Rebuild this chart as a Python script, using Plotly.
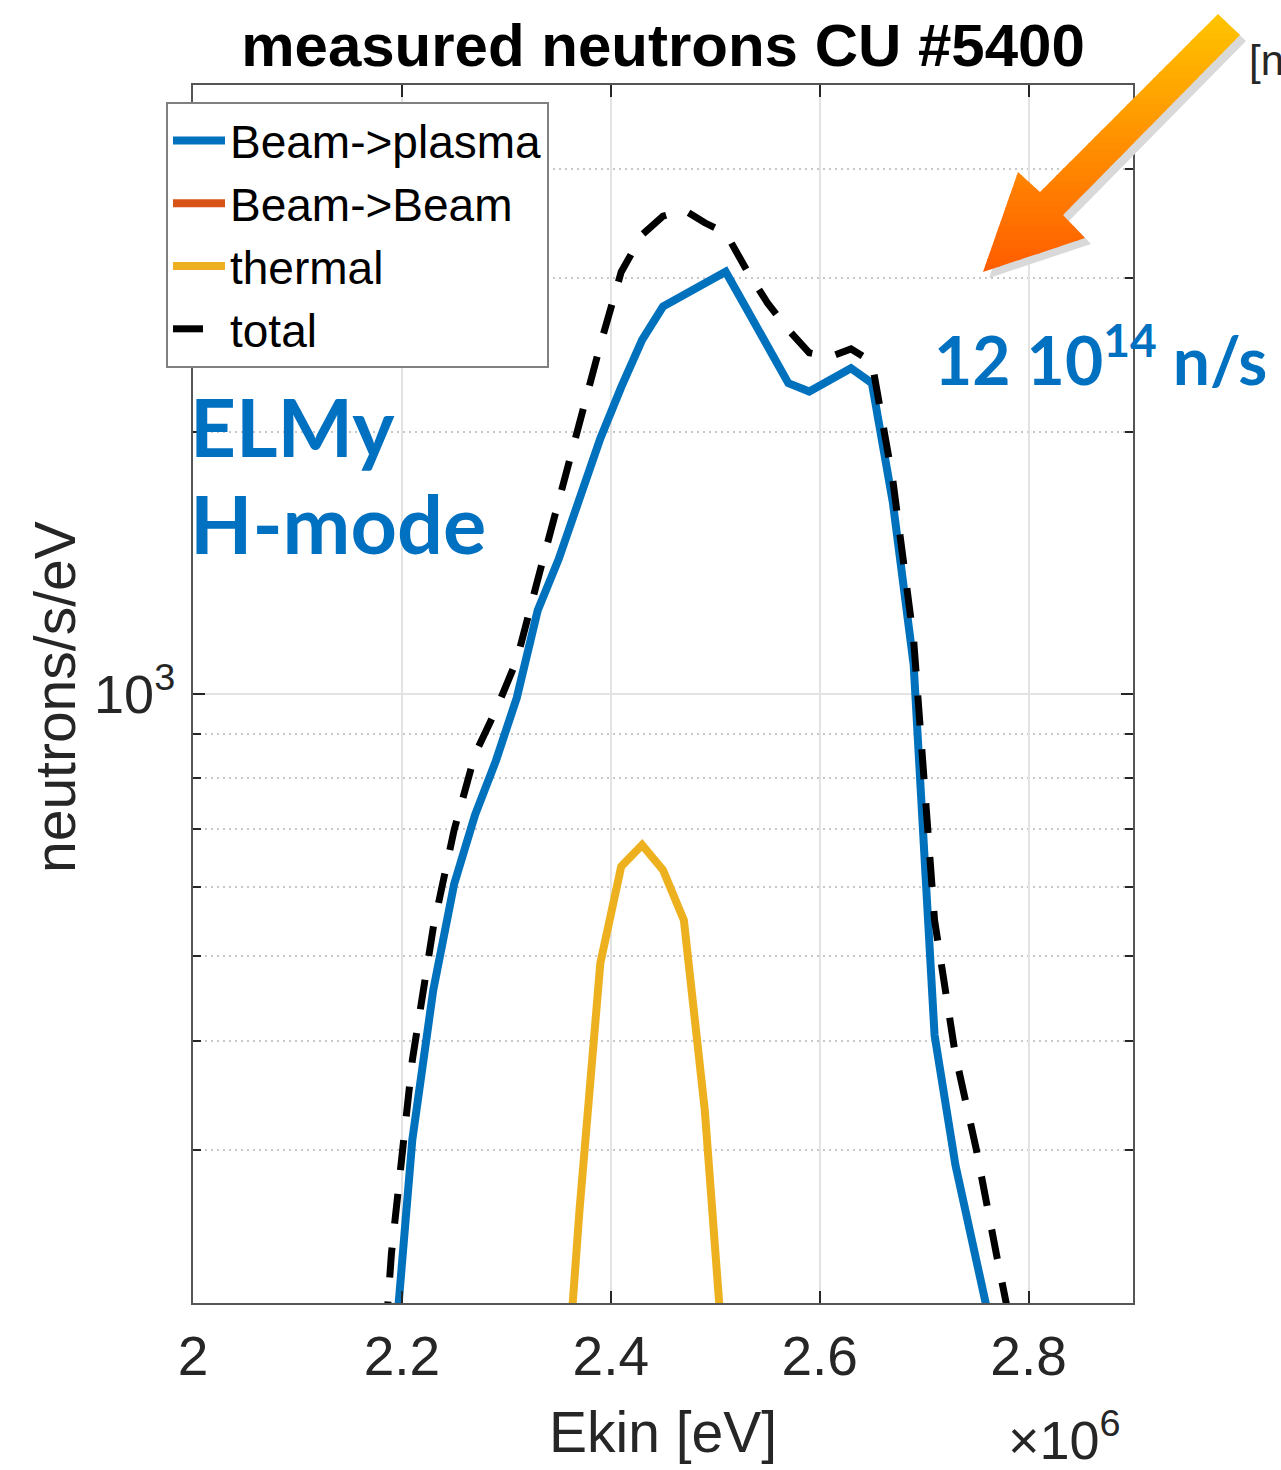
import plotly.graph_objects as go

# ---------------- data ----------------
title_text = "measured neutrons CU #5400"
x_label = "Ekin [eV]"
y_label = "neutrons/s/eV"
series_names = ["Beam->plasma", "Beam->Beam", "thermal", "total"]

x_tick_vals = [2.0e6, 2.2e6, 2.4e6, 2.6e6, 2.8e6]
x_tick_text = ["2", "2.2", "2.4", "2.6", "2.8"]
y_tick_vals = [1000]
y_tick_text = ["10<sup>3</sup>"]
y_minor_vals = [200, 300, 400, 500, 600, 700, 800, 900, 2000, 3000, 4000, 5000]

energy_beam = [2.19e6, 2.21e6, 2.23e6, 2.25e6, 2.27e6, 2.29e6, 2.31e6, 2.33e6,
               2.35e6, 2.37e6, 2.39e6, 2.41e6, 2.43e6, 2.45e6, 2.47e6, 2.49e6,
               2.51e6, 2.53e6, 2.55e6, 2.57e6, 2.59e6, 2.61e6, 2.63e6, 2.65e6,
               2.67e6, 2.69e6, 2.71e6, 2.73e6, 2.75e6, 2.77e6]
beam_plasma = [159, 308, 457, 605, 726, 838, 990, 1247, 1427, 1673, 1965, 2250,
               2549, 2784, 2871, 2961, 3053, 2768, 2509, 2274, 2224, 2293, 2365,
               2274, 1661, 1080, 406, 288, 223, 174]
beam_beam = [40, 60, 75, 90, 105, 115, 125, 135, 145, 155, 160, 165, 170, 172,
             175, 173, 170, 165, 160, 155, 150, 145, 140, 130, 100, 75, 60, 45,
             35, 30]

energy_thermal = [2.35e6, 2.37e6, 2.39e6, 2.41e6, 2.43e6, 2.45e6, 2.47e6,
                  2.49e6, 2.51e6]
thermal = [120, 255, 491, 634, 671, 628, 550, 333, 159]

energy_total = [2.17e6, 2.19e6, 2.21e6, 2.23e6, 2.25e6, 2.27e6, 2.29e6, 2.31e6,
                2.33e6, 2.35e6, 2.37e6, 2.39e6, 2.41e6, 2.43e6, 2.45e6, 2.47e6,
                2.49e6, 2.51e6, 2.53e6, 2.55e6, 2.57e6, 2.59e6, 2.61e6, 2.63e6,
                2.65e6, 2.67e6, 2.69e6, 2.71e6, 2.73e6, 2.75e6, 2.77e6, 2.79e6]
total = [105, 228, 380, 539, 698, 853, 958, 1094, 1352, 1670, 2053, 2516, 3051,
         3365, 3535, 3594, 3474, 3383, 3067, 2811, 2618, 2464, 2438, 2489, 2405,
         1761, 1153, 550, 385, 300, 225, 171]

# ---------------- styling ----------------
W, H = 1281, 1470
L, R, T, B = 193, 148, 85, 167
PW, PH = W - L - R, H - T - B
TXT = "#262626"
FONT = "Liberation Sans, Arial, Helvetica, sans-serif"
BLUE_TXT = "#0070C0"


def px2paper(px, py):
    return (px - L) / PW, (H - B - py) / PH


fig = go.Figure()
fig.add_trace(go.Scatter(x=energy_beam, y=beam_plasma, mode="lines",
                         name=series_names[0],
                         line=dict(color="#0072BD", width=8)))
fig.add_trace(go.Scatter(x=energy_beam, y=beam_beam, mode="lines",
                         name=series_names[1],
                         line=dict(color="#D95319", width=8)))
fig.add_trace(go.Scatter(x=energy_thermal, y=thermal, mode="lines",
                         name=series_names[2],
                         line=dict(color="#EDB120", width=8)))
fig.add_trace(go.Scatter(x=energy_total, y=total, mode="lines",
                         name=series_names[3],
                         line=dict(color="#000000", width=7, dash="30px,24px")))

# ---------------- arrow (decoration) ----------------
arrow_px = [(1218, 14), (1240, 35), (1063, 215), (1085, 238), (983, 272),
            (1018, 172), (1040, 192)]


def clip(poly, y0, y1):
    def clip_edge(pts, keep, inter):
        out = []
        n = len(pts)
        for i in range(n):
            cur, prev = pts[i], pts[i - 1]
            if keep(cur):
                if not keep(prev):
                    out.append(inter(prev, cur))
                out.append(cur)
            elif keep(prev):
                out.append(inter(prev, cur))
        return out

    def iy(yv):
        def f(p, q):
            t = (yv - p[1]) / (q[1] - p[1])
            return (p[0] + t * (q[0] - p[0]), yv)
        return f

    pts = clip_edge(poly, lambda p: p[1] >= y0, iy(y0))
    if pts:
        pts = clip_edge(pts, lambda p: p[1] <= y1, iy(y1))
    return pts


def path_of(pts, dx=0, dy=0):
    s = ""
    for i, (a, b) in enumerate(pts):
        X, Y = px2paper(a + dx, b + dy)
        s += ("M" if i == 0 else "L") + f"{X:.5f},{Y:.5f} "
    return s + "Z"


shapes = [dict(type="path", xref="paper", yref="paper",
               path=path_of(arrow_px, 6, 6), fillcolor="#d9d9d9",
               line=dict(width=0), layer="above")]
ymin, ymax = 14, 272
nb = 40
c0, c1 = (255, 196, 0), (255, 92, 0)
for k in range(nb):
    y0 = ymin + (ymax - ymin) * k / nb
    y1 = ymin + (ymax - ymin) * (k + 1) / nb + 1.0
    pts = clip(arrow_px, y0, y1)
    if len(pts) < 3:
        continue
    t = (k + 0.5) / nb
    col = tuple(int(round(c0[i] + (c1[i] - c0[i]) * t)) for i in range(3))
    shapes.append(dict(type="path", xref="paper", yref="paper",
                       path=path_of(pts), fillcolor=f"rgb{col}",
                       line=dict(width=0), layer="above"))

# ---------------- annotations ----------------
ann = []


def add_text(text, px, py, size, color=TXT, family=FONT, xanchor="left",
             yanchor="middle", angle=0, bold=False):
    X, Y = px2paper(px, py)
    ann.append(dict(text=f"<b>{text}</b>" if bold else text, x=X, y=Y,
                    xref="paper", yref="paper", showarrow=False,
                    xanchor=xanchor, yanchor=yanchor, textangle=angle,
                    font=dict(size=size, color=color, family=family)))


add_text(y_label, 55, 697, 57, xanchor="center", angle=-90)
add_text(x_label, 663, 1432, 57, xanchor="center")
add_text("×10<sup>6</sup>", 1006, 1436, 54)
add_text("ELMy", 188, 426, 80, color=BLUE_TXT, family="Lato, sans-serif", bold=True)
add_text("H-mode", 188, 522, 81, color=BLUE_TXT, family="Lato, sans-serif", bold=True)
add_text("12 10<sup>14</sup> n/s", 932, 355, 66, color=BLUE_TXT,
         family="Lato, sans-serif", bold=True)
add_text("[n", 1247, 60, 42)

lx, ly = px2paper(166, 102)

fig.update_layout(
    width=W, height=H,
    margin=dict(l=L, r=R, t=T, b=B, autoexpand=False),
    paper_bgcolor="white", plot_bgcolor="white",
    title=dict(text=f"<b>{title_text}</b>", x=0.5, xref="paper",
               xanchor="center", y=1 - 45 / H, yref="container",
               yanchor="middle",
               font=dict(size=60, color="#000000", family=FONT)),
    showlegend=True,
    legend=dict(x=lx, y=ly, xanchor="left", yanchor="top",
                bgcolor="white", bordercolor="#808080", borderwidth=2,
                font=dict(size=46, color="#000000", family=FONT),
                tracegroupgap=0, itemwidth=52),
    xaxis=dict(range=[2.0e6, 2.9e6], tickmode="array", tickvals=x_tick_vals,
               ticktext=x_tick_text, showgrid=True, gridcolor="#e3e3e3",
               gridwidth=1.5, ticks="inside", ticklen=12, tickwidth=2,
               tickcolor=TXT, showline=True, linecolor="#555555",
               linewidth=2, mirror="ticks", zeroline=False,
               tickfont=dict(size=55, color=TXT, family=FONT),
               ticklabelstandoff=4),
    yaxis=dict(type="log", range=[2.30103, 3.69897], tickmode="array",
               tickvals=y_tick_vals, ticktext=y_tick_text, showgrid=True,
               gridcolor="#e3e3e3", gridwidth=1.5, ticks="inside",
               ticklen=12, tickwidth=2, tickcolor=TXT, showline=True,
               linecolor="#555555", linewidth=2, mirror="ticks",
               zeroline=False,
               tickfont=dict(size=54, color=TXT, family=FONT),
               ticklabelstandoff=5,
               minor=dict(tickmode="array", tickvals=y_minor_vals,
                          ticks="inside", ticklen=8, tickwidth=2,
                          tickcolor=TXT, showgrid=True, gridcolor="#c8c8c8",
                          griddash="2px,4px", gridwidth=1.5)),
    shapes=shapes,
    annotations=ann,
)

fig.write_html("out.html",
               config={"displayModeBar": False},
               post_script="document.documentElement.style.margin='0';"
                           "document.body.style.margin='0';"
                           "document.body.style.padding='0';")
